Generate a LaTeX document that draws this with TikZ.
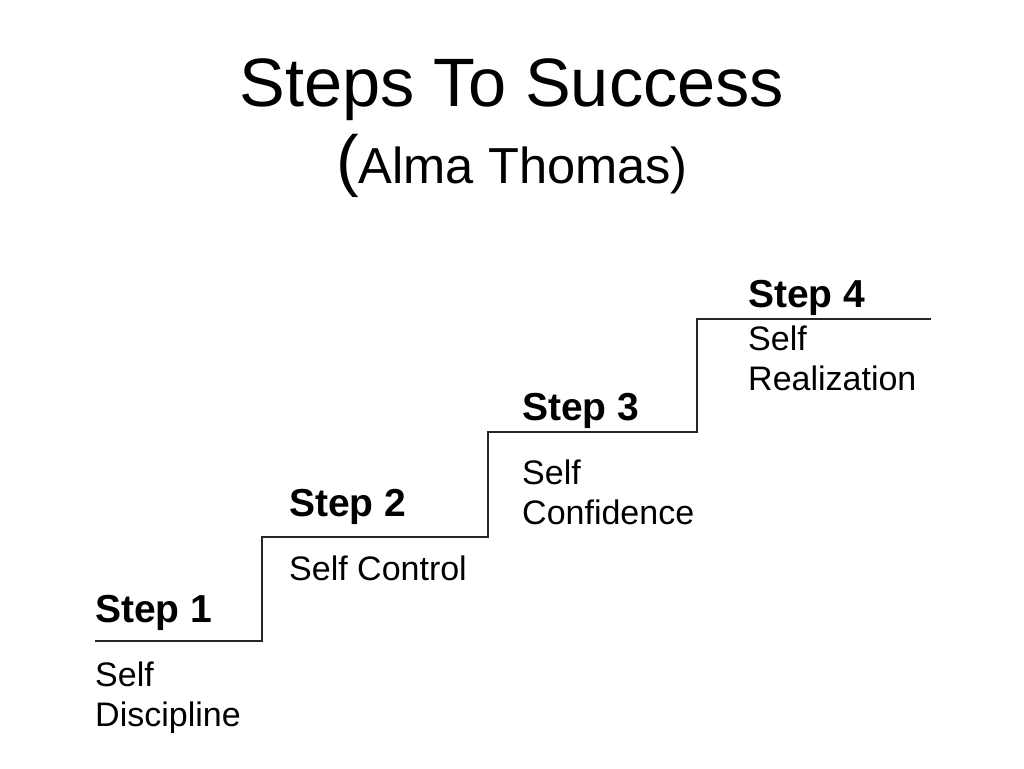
\documentclass[tikz,border=0pt]{standalone}
\usepackage{fontspec}
\setmainfont{Liberation Sans}
\tikzset{
	stepname/.style={anchor=base west,inner sep=0pt,font=\fontsize{39}{40}\selectfont\bfseries},
	steptext/.style={anchor=base west,inner sep=0pt,align=left,font=\fontsize{34}{40}\selectfont},
	stair/.style={line width=1.3pt,draw=black!85}
}
\begin{document}
\begin{tikzpicture}[x=1pt,y=-1pt]
		\useasboundingbox (0,0) rectangle (1024,768);
		\node[anchor=base,inner sep=0pt,font=\fontsize{68.5}{70}\selectfont] (title) at (512,106) {Steps To Success};
		\node[anchor=base,inner sep=0pt,font=\fontsize{50.6}{60}\selectfont] (author) at (512,183) {{\fontsize{68}{70}\selectfont(}Alma Thomas)};

		\draw[stair] (95,641) -- (262,641) -- (262,537) -- (488,537) -- (488,432) -- (697,432) -- (697,319) -- (931,319);

		% multi-line texts: base is the last line
		\node[stepname] (s1) at (95,622) {Step 1};
		\node[steptext] (t1) at (95,726) {Self\\Discipline};
		\node[stepname] (s2) at (289,516) {Step 2};
		\node[steptext] (t2) at (289,580) {Self Control};
		\node[stepname] (s3) at (522,420) {Step 3};
		\node[steptext] (t3) at (522,524) {Self\\Confidence};
		\node[stepname] (s4) at (748,307) {Step 4};
		\node[steptext] (t4) at (748,390) {Self\\Realization};
	\end{tikzpicture}
\end{document}
